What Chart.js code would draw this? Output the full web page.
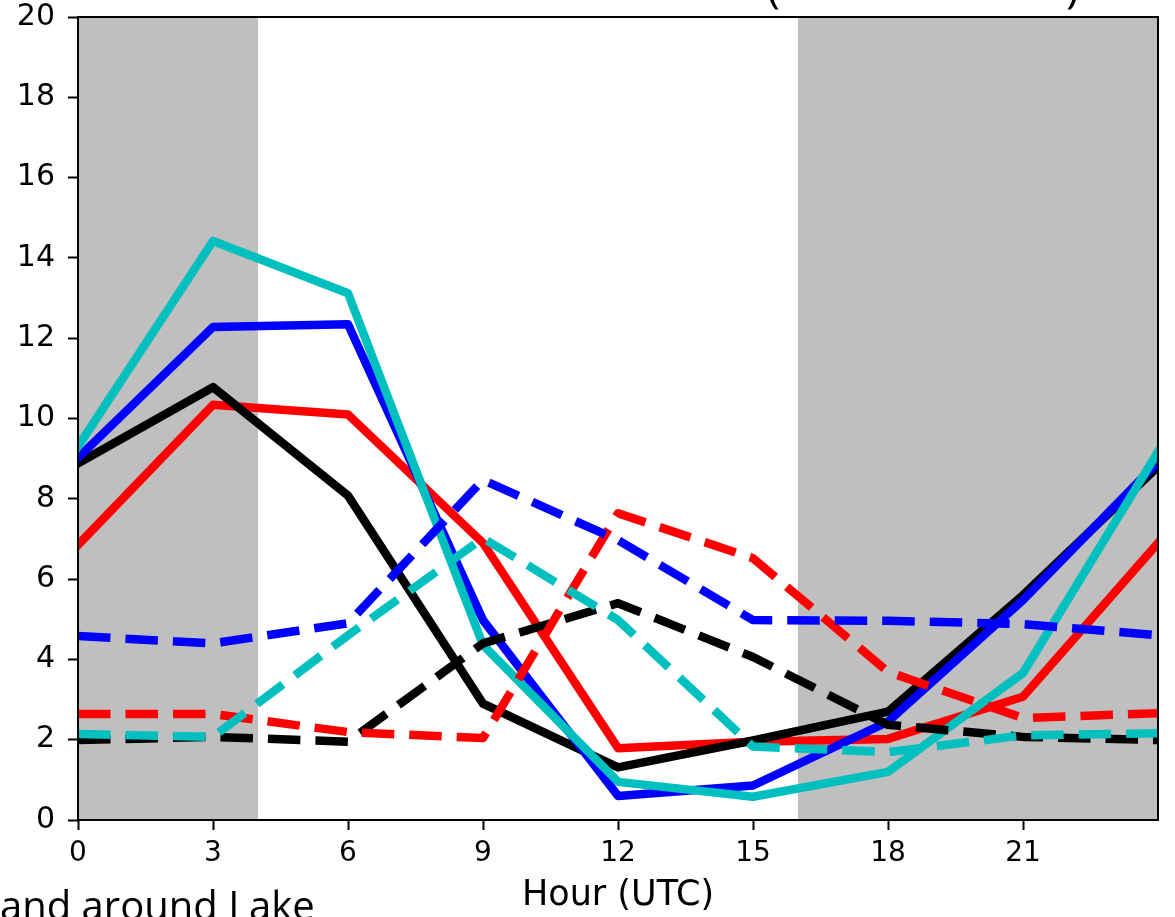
<!DOCTYPE html>
<html>
<head>
<meta charset="utf-8">
<script src="https://cdn.jsdelivr.net/npm/chart.js@4.4.1/dist/chart.umd.min.js"></script>
<style>
  html, body { margin: 0; padding: 0; background: #ffffff; }
  canvas { display: block; }
</style>
</head>
<body>
<canvas id="c" width="1175" height="917"></canvas>
<script>
// Hours of the day (UTC) at which the diurnal cycle is sampled
const hours = [0, 3, 6, 9, 12, 15, 18, 21, 24];
const xTickValues = [0, 3, 6, 9, 12, 15, 18, 21];
const yTickValues = [0, 2, 4, 6, 8, 10, 12, 14, 16, 18, 20];

// Solid curves
const blackSolid = [8.88, 10.78, 8.08, 2.9, 1.31, 1.98, 2.7, 5.6, 8.8];
const redSolid   = [6.85, 10.34, 10.1, 6.9, 1.79, 1.95, 2.02, 3.07, 6.9];
const blueSolid  = [9.02, 12.28, 12.35, 4.98, 0.6, 0.86, 2.45, 5.48, 8.92];
const cyanSolid  = [9.3, 14.42, 13.12, 4.36, 0.95, 0.58, 1.2, 3.66, 9.17];

// Dashed curves
const blackDashed = [1.99, 2.07, 1.95, 4.4, 5.4, 4.06, 2.37, 2.07, 1.99];
const redDashed   = [2.64, 2.64, 2.19, 2.04, 7.64, 6.52, 3.69, 2.54, 2.66];
const blueDashed  = [4.58, 4.4, 4.9, 8.47, 6.97, 4.98, 4.96, 4.88, 4.6];
const cyanDashed  = [2.14, 2.07, 4.6, 7.02, 4.98, 1.83, 1.69, 2.11, 2.16];

// Night-time bands (hours, UTC)
const nightBands = [[0, 4], [16, 24]];

const xAxisTitle = 'Hour (UTC)';
const captionText = 'and around Lake';

const BLACK = '#000000', RED = '#ff0000', BLUE = '#0000ff', CYAN = '#00bfbf';

function series(values) { return hours.map((h, i) => ({ x: h, y: values[i] })); }

// listed from bottom-most to top-most drawing layer
const layers = [
  { data: redSolid, color: RED, dashed: false },
  { data: blackSolid, color: BLACK, dashed: false },
  { data: blueSolid, color: BLUE, dashed: false },
  { data: cyanSolid, color: CYAN, dashed: false },
  { data: blackDashed, color: BLACK, dashed: true },
  { data: redDashed, color: RED, dashed: true },
  { data: blueDashed, color: BLUE, dashed: true },
  { data: cyanDashed, color: CYAN, dashed: true }
];

const datasets = layers.map((l, i) => ({
  data: series(l.data),
  borderColor: l.color,
  backgroundColor: l.color,
  borderWidth: 8.5,
  borderDash: l.dashed ? [32.5, 15] : [],
  borderCapStyle: l.dashed ? 'butt' : 'square',
  borderJoinStyle: 'round',
  pointRadius: 0,
  tension: 0,
  fill: false,
  clip: 0,
  order: layers.length - i
}));

// Grey shading behind the curves
const bandsPlugin = {
  id: 'bands',
  beforeDatasetsDraw(chart) {
    const { ctx, chartArea, scales } = chart;
    ctx.save();
    ctx.fillStyle = '#bfbfbf';
    nightBands.forEach(([a, b]) => {
      const x0 = scales.x.getPixelForValue(a);
      const x1 = scales.x.getPixelForValue(b);
      ctx.fillRect(x0, chartArea.top, x1 - x0, chartArea.bottom - chartArea.top);
    });
    ctx.restore();
  }
};

// Axes frame and surrounding text
const framePlugin = {
  id: 'frame',
  afterDatasetsDraw(chart) {
    const { ctx, chartArea: a } = chart;
    ctx.save();
    ctx.strokeStyle = '#000000';
    ctx.lineWidth = 2;
    ctx.strokeRect(a.left, a.top, a.right - a.left, a.bottom - a.top);
    ctx.restore();
  },
  afterDraw(chart) {
    const { ctx } = chart;
    ctx.save();
    ctx.fillStyle = '#000000';
    ctx.textBaseline = 'alphabetic';
    ctx.textAlign = 'left';
    ctx.font = '40px "Open Sans"';
    ctx.fillText(captionText, 0, 920);
    ctx.font = '44px "Open Sans"';
    ctx.fillText('(', 767, 2);
    ctx.fillText(')', 1066, 2);
    ctx.restore();
  }
};

Chart.defaults.font.family = '"DejaVu Sans"';
Chart.defaults.color = '#000000';

new Chart(document.getElementById('c'), {
  type: 'line',
  data: { datasets },
  options: {
    responsive: false,
    animation: false,
    events: [],
    layout: { padding: { top: 17, right: 17, bottom: 0, left: 0 } },
    plugins: { legend: { display: false }, tooltip: { enabled: false } },
    scales: {
      x: {
        type: 'linear',
        min: 0,
        max: 24,
        afterBuildTicks(scale) { scale.ticks = xTickValues.map(v => ({ value: v })); },
        afterFit(scale) {
          scale.height = 97;
          scale.paddingLeft = 0;
          scale.paddingRight = 0;
        },
        ticks: { font: { size: 28 }, padding: 7, maxRotation: 0, color: '#000' },
        grid: { display: true, drawOnChartArea: false, drawTicks: true, tickLength: 10, tickWidth: 2, tickColor: '#000' },
        border: { display: false },
        title: { display: true, text: xAxisTitle, font: { size: 35 }, color: '#000', padding: { top: 0, bottom: 0 } }
      },
      y: {
        type: 'linear',
        min: 0,
        max: 20,
        afterBuildTicks(scale) { scale.ticks = yTickValues.map(v => ({ value: v })); },
        afterFit(scale) {
          scale.width = 78;
          scale.paddingTop = 0;
          scale.paddingBottom = 0;
        },
        ticks: { font: { size: 30 }, padding: 13, color: '#000' },
        grid: { display: true, drawOnChartArea: false, drawTicks: true, tickLength: 10, tickWidth: 2, tickColor: '#000' },
        border: { display: false }
      }
    }
  },
  plugins: [bandsPlugin, framePlugin]
});
</script>
</body>
</html>
